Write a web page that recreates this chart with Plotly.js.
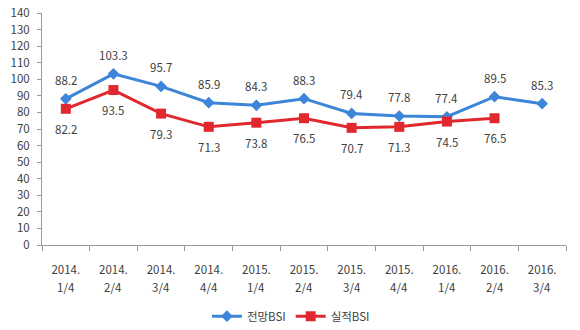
<!DOCTYPE html>
<html><head><meta charset="utf-8">
<script src="https://cdn.plot.ly/plotly-3.0.1.min.js"></script>
<style>html,body{margin:0;padding:0;background:#fff}#c{width:580px;height:330px}</style>
</head><body><div id="c"></div>
<script>
const yearLabels = ["2014.","2014.","2014.","2014.","2015.","2015.","2015.","2015.","2016.","2016.","2016."];
const quarterLabels = ["1/4","2/4","3/4","4/4","1/4","2/4","3/4","4/4","1/4","2/4","3/4"];
const forecastBSI = [88.2,103.3,95.7,85.9,84.3,88.3,79.4,77.8,77.4,89.5,85.3];
const actualBSI = [82.2,93.5,79.3,71.3,73.8,76.5,70.7,71.3,74.5,76.5,null];
const seriesNames = ["전망BSI","실적BSI"];

const idx = yearLabels.map((_, i) => i);
const FONT = "Noto Sans CJK KR, Noto Sans, sans-serif";
const TXT = "#404040";
const BLUE = "#3d85d8", RED = "#e0282e";

const traces = [
  {x: idx, y: forecastBSI, name: seriesNames[0], type: "scatter", mode: "lines+markers",
   line: {color: BLUE, width: 3}, marker: {symbol: "diamond", size: 9, color: BLUE}},
  {x: idx, y: actualBSI, name: seriesNames[1], type: "scatter", mode: "lines+markers",
   line: {color: RED, width: 3}, marker: {symbol: "square", size: 10, color: RED}}
];

const annotations = [];
forecastBSI.forEach((v, i) => { if (v != null) annotations.push({x: i, y: v, xref: "x", yref: "y", text: v.toFixed(1), showarrow: false, yshift: 19, font: {family: FONT, size: 11.5, color: TXT}}); });
actualBSI.forEach((v, i) => { if (v != null) annotations.push({x: i, y: v, xref: "x", yref: "y", text: v.toFixed(1), showarrow: false, yshift: -20, font: {family: FONT, size: 11.5, color: TXT}}); });
quarterLabels.forEach((q, i) => annotations.push({x: i, y: 0, xref: "x", yref: "y", text: q, showarrow: false, yshift: -42, font: {family: FONT, size: 11.5, color: TXT}}));

const layout = {
  width: 580, height: 330,
  margin: {l: 42, r: 14, t: 13, b: 85, autoexpand: false},
  paper_bgcolor: "#fff", plot_bgcolor: "#fff",
  showlegend: true,
  legend: {orientation: "h", x: 0.475, xanchor: "center", yref: "container", y: 0.042, yanchor: "middle",
           font: {family: FONT, size: 11.5, color: TXT}, traceorder: "normal"},
  xaxis: {range: [-0.5, 10.5], tickmode: "array", tickvals: idx, ticktext: yearLabels, automargin: false,
          showgrid: false, zeroline: false, showline: true, linecolor: "#9a9a9a", linewidth: 1,
          ticks: "", ticklabelstandoff: 14, tickfont: {family: FONT, size: 11.5, color: TXT}},
  xaxis2: {range: [-0.5, 10.5], overlaying: "x", anchor: "y", side: "bottom", tickmode: "array", automargin: false,
          tickvals: idx.concat([idx.length]).map(v => v - 0.5), ticktext: idx.concat([idx.length]).map(() => ""),
          ticks: "outside", ticklen: 5, tickcolor: "#9a9a9a", showgrid: false, zeroline: false, showline: false, showticklabels: false},
  yaxis: {range: [0, 140], tickmode: "linear", tick0: 0, dtick: 10, showgrid: false, zeroline: false, automargin: false,
          showline: true, linecolor: "#9a9a9a", linewidth: 1, ticks: "outside", ticklen: 4, tickcolor: "#9a9a9a",
          ticklabelstandoff: 5, tickfont: {family: FONT, size: 11.5, color: TXT}},
  annotations: annotations
};

traces.push({x: [], y: [], xaxis: "x2", yaxis: "y", showlegend: false, hoverinfo: "skip"});

Plotly.newPlot("c", traces, layout, {displayModeBar: false, staticPlot: true});
</script></body></html>
